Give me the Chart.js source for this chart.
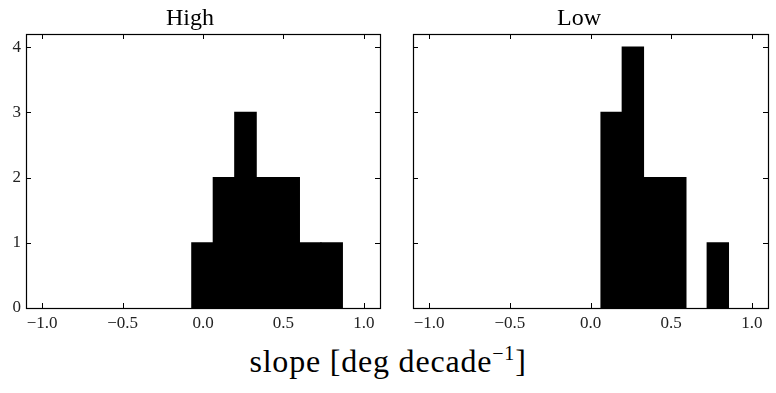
<!DOCTYPE html>
<html>
<head>
<meta charset="utf-8">
<script src="https://cdn.jsdelivr.net/npm/chart.js@4.4.1/dist/chart.umd.min.js"></script>
<style>
  html, body { margin: 0; padding: 0; background: #fff; }
  body { width: 776px; height: 393px; position: relative; overflow: hidden; font-family: 'Liberation Serif', serif; }
  canvas { position: absolute; top: 0; }
  #cHigh { left: 0; }
  #cLow { left: 390px; }
  #xlabel { position: absolute; left: 0; width: 776px; top: 345px; text-align: center; font-size: 32px; line-height: 32px; letter-spacing: 0.8px; color: #000; }
  #xlabel sup { font-size: 20px; vertical-align: 12px; line-height: 0; }
</style>
</head>
<body>
<canvas id="cHigh" width="390" height="340"></canvas>
<canvas id="cLow" width="386" height="340"></canvas>
<div id="xlabel">slope [deg decade<sup>−1</sup>]</div>
<script>
// ---- data ----
const panelTitles = ["High", "Low"];
const highEdges  = [-0.070, 0.064, 0.197, 0.331, 0.465, 0.600, 0.733, 0.866];
const highCounts = [1, 2, 3, 2, 2, 1, 1];
const lowEdges   = [0.065, 0.197, 0.328, 0.460, 0.591, 0.723, 0.855];
const lowCounts  = [3, 4, 2, 2, 0, 1];
const xTickValues = [-1.0, -0.5, 0.0, 0.5, 1.0];
const yTickValues = [0, 1, 2, 3, 4];
const xLabel = "slope [deg decade⁻¹]";

Chart.defaults.font.family = "'Liberation Serif', serif";
Chart.defaults.color = "#222";

function toPoints(edges, counts) {
  return counts.map((c, i) => ({ x: (edges[i] + edges[i + 1]) / 2, y: c }));
}
function fmt(v) {
  return v.toFixed(1).replace('-', '\u2212');
}

const frameTicks = {
  id: 'frameTicks',
  afterDraw(chart) {
    const { ctx, chartArea: a, scales } = chart;
    const L = 5;
    ctx.save();
    ctx.strokeStyle = '#000';
    ctx.lineWidth = 1;
    ctx.beginPath();
    xTickValues.forEach(v => {
      const px = Math.round(scales.x.getPixelForValue(v)) + 0.5;
      ctx.moveTo(px, a.bottom); ctx.lineTo(px, a.bottom - L);
      ctx.moveTo(px, a.top); ctx.lineTo(px, a.top + L);
    });
    yTickValues.forEach(v => {
      const py = Math.round(scales.y.getPixelForValue(v)) + 0.5;
      ctx.moveTo(a.left, py); ctx.lineTo(a.left + L, py);
      ctx.moveTo(a.right, py); ctx.lineTo(a.right - L, py);
    });
    ctx.stroke();
    ctx.lineWidth = 1.2;
    ctx.strokeRect(Math.round(a.left) + 0.5, Math.round(a.top) + 0.5,
                   Math.round(a.right - a.left), Math.round(a.bottom - a.top));
    ctx.restore();
  }
};

function makeChart(id, title, edges, counts, showY, yWidth, padRight) {
  return new Chart(document.getElementById(id), {
    type: 'bar',
    data: {
      datasets: [{
        data: toPoints(edges, counts),
        backgroundColor: c => (c.raw && c.raw.y === 0) ? 'rgba(0,0,0,0)' : '#000',
        borderWidth: 0,
        inflateAmount: c => (c.raw && c.raw.y === 0) ? 0 : 0.6,
        barPercentage: 1,
        categoryPercentage: 1
      }]
    },
    options: {
      responsive: false,
      animation: false,
      devicePixelRatio: 1,
      layout: { padding: { left: 0, right: padRight, top: 0, bottom: 0 } },
      plugins: {
        legend: { display: false },
        tooltip: { enabled: false },
        title: {
          display: true, text: title, color: '#000',
          font: { size: 24, weight: 'normal', lineHeight: 1.2 },
          padding: { top: 4, bottom: 1.2 }
        }
      },
      scales: {
        x: {
          type: 'linear', min: -1.1, max: 1.1, offset: false,
          grid: { display: false, drawTicks: false, offset: false },
          border: { display: false },
          afterBuildTicks: s => { s.ticks = xTickValues.map(v => ({ value: v })); },
          afterFit: s => { s.height = 32; },
          ticks: { callback: v => fmt(v), font: { size: 17 }, padding: 5, maxRotation: 0, autoSkip: false }
        },
        y: {
          min: 0, max: 4.2,
          grid: { display: false, drawTicks: false },
          border: { display: false },
          afterBuildTicks: s => { s.ticks = yTickValues.map(v => ({ value: v })); },
          afterFit: s => { s.width = yWidth; },
          ticks: { display: showY, callback: v => String(v), font: { size: 17 }, padding: 5 }
        }
      }
    },
    plugins: [frameTicks]
  });
}

makeChart('cHigh', panelTitles[0], highEdges, highCounts, true, 26, 10);
makeChart('cLow', panelTitles[1], lowEdges, lowCounts, false, 23, 8);
</script>
</body>
</html>
